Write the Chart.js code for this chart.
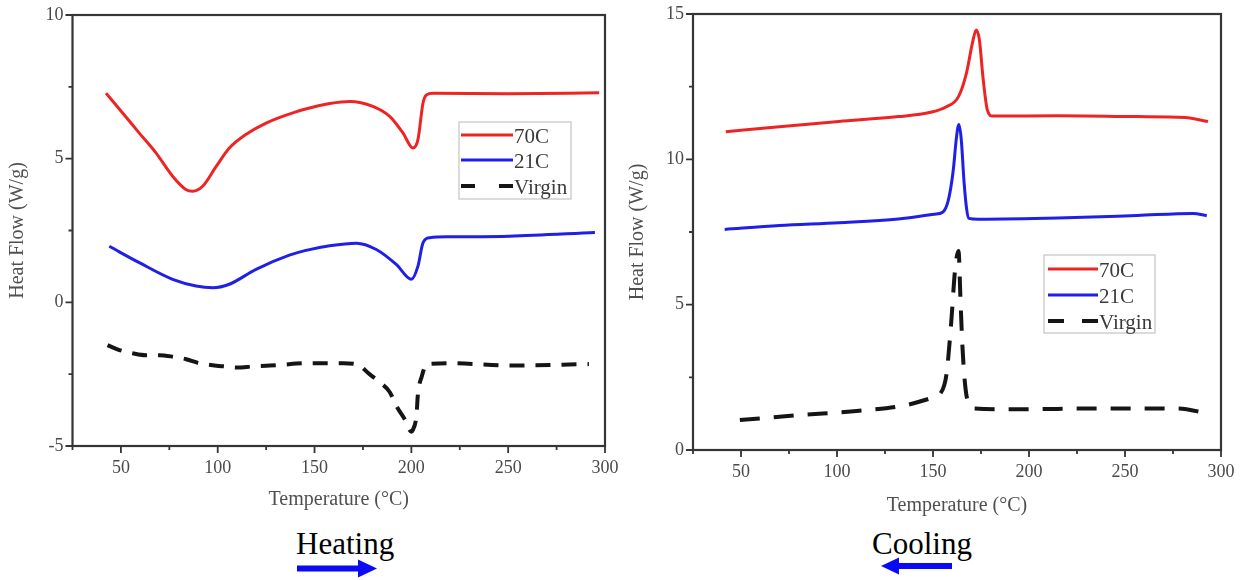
<!DOCTYPE html>
<html>
<head>
<meta charset="utf-8">
<script src="https://cdn.jsdelivr.net/npm/chart.js@4/dist/chart.umd.min.js"></script>
<style>
  html, body { margin: 0; padding: 0; background: #fff; width: 1244px; height: 580px; overflow: hidden; }
  .box { position: absolute; top: 0; height: 520px; }
  #leftBox { left: 0; width: 620px; }
  #rightBox { left: 620px; width: 624px; }
  .lbl { position: absolute; font-family: "Liberation Serif", "Times New Roman", serif; font-size: 31px; line-height: 31px; color: #000; white-space: nowrap; }
  svg.arrows { position: absolute; left: 0; top: 0; }
</style>
</head>
<body>
<div class="box" id="leftBox"><canvas id="heat"></canvas></div>
<div class="box" id="rightBox"><canvas id="cool"></canvas></div>
<div class="lbl" style="left:296px; top:528px;">Heating</div>
<div class="lbl" style="left:872px; top:528px;">Cooling</div>
<svg class="arrows" width="1244" height="580">
  <rect x="297" y="565.5" width="62" height="6" fill="#0a0af5"/>
  <polygon points="358,559.5 377,568.5 358,577.5" fill="#0a0af5"/>
  <polygon points="881,566 899,557.5 899,574.5" fill="#0a0af5"/>
  <rect x="898" y="563" width="54" height="6" fill="#0a0af5"/>
</svg>
<script>
// ---------------- data ----------------
const seriesNames = ['70C', '21C', 'Virgin'];

// Heating (left panel)
const heatX70 = [42.3, 50.9, 59.5, 68.1, 76.7, 83.7, 87.1, 92.2, 99.2, 106, 114.7, 125, 140, 152, 157.8, 168.1, 180.1, 188.8, 195.7, 200.8, 203.4, 206, 207.8, 211.2, 250, 297];
const heatY70 = [7.28, 6.59, 5.89, 5.2, 4.39, 3.92, 3.87, 4.04, 4.73, 5.37, 5.85, 6.24, 6.62, 6.84, 6.92, 6.99, 6.82, 6.47, 5.89, 5.37, 5.66, 6.93, 7.22, 7.28, 7.26, 7.29];
const heatX21 = [44, 59.5, 76.7, 88.8, 97.4, 106, 119.8, 137, 145, 157.8, 171.6, 181.9, 192.2, 200, 203.4, 206, 209.5, 219.8, 250.6, 294.8];
const heatY21 = [1.95, 1.38, 0.8, 0.57, 0.51, 0.63, 1.15, 1.64, 1.8, 1.97, 2.06, 1.84, 1.32, 0.8, 1.26, 2.07, 2.25, 2.28, 2.3, 2.43];
const heatXV = [43.1, 49.2, 56, 63, 69.9, 76.7, 83.7, 90.5, 97.4, 103.5, 110.3, 118, 125, 132, 146, 165, 171.6, 178.4, 183.6, 188.8, 192.2, 196.5, 200, 200.7, 202.7, 203.3, 205.4, 208, 220, 250.6, 291.7];
const heatYV = [-1.49, -1.66, -1.77, -1.84, -1.84, -1.89, -1.98, -2.12, -2.19, -2.23, -2.27, -2.23, -2.21, -2.18, -2.12, -2.12, -2.15, -2.5, -2.78, -3.12, -3.6, -4.06, -4.5, -4.45, -3.89, -3.26, -2.57, -2.15, -2.12, -2.2, -2.15];

// Cooling (right panel)
const coolX70 = [42.1, 70, 101, 132, 148.7, 157, 163.2, 167.4, 170.5, 172.5, 174.2, 176, 178.3, 181, 215, 256.4, 281.2, 293.2];
const coolY70 = [10.95, 11.12, 11.3, 11.47, 11.62, 11.81, 12.15, 12.96, 13.99, 14.45, 14.1, 12.84, 11.7, 11.49, 11.5, 11.47, 11.44, 11.3];
const coolX21 = [41.5, 70, 101, 132, 150.8, 155, 158, 160.5, 162.3, 163.5, 164.7, 166.2, 167.5, 168.7, 173.6, 215, 256.4, 285.4, 292.6];
const coolY21 = [7.59, 7.72, 7.82, 7.95, 8.11, 8.18, 8.6, 9.6, 10.8, 11.2, 10.7, 9.2, 8.3, 7.97, 7.94, 7.98, 8.07, 8.14, 8.06];
const coolXV = [49.4, 80.4, 111.5, 136.3, 148.7, 154, 157, 159.5, 161.5, 163.3, 164.3, 165.3, 166.5, 168, 171.3, 194.3, 235.7, 277, 293.2];
const coolYV = [1.03, 1.2, 1.35, 1.55, 1.78, 1.96, 2.6, 4.4, 6.2, 6.85, 5.2, 3.6, 2.4, 1.7, 1.43, 1.4, 1.43, 1.43, 1.26];

// axis ranges / tick labels
const xMin = 25, xMax = 300, xStep = 25, xLabelEvery = 50;
const heatYMin = -5, heatYMax = 10;
const coolYMin = 0, coolYMax = 15;
const yStep = 2.5, yLabelEvery = 5;
const xTitle = 'Temperature (\u00B0C)';
const yTitle = 'Heat Flow (W/g)';

// ---------------- styling ----------------
const SERIF = '"Liberation Serif", "Times New Roman", serif';
const RED = '#ee2424', BLUE = '#1f1fe8', BLACK = '#151515';

function pts(xs, ys) { return xs.map((x, i) => ({ x: x, y: ys[i] })); }

const framePlugin = {
  id: 'frameTicks',
  afterDraw(chart, args, opts) {
    const { ctx, chartArea: a, scales } = chart;
    const x = scales.x, y = scales.y;
    ctx.save();
    ctx.strokeStyle = '#353535';
    ctx.lineWidth = 2.2;
    ctx.strokeRect(a.left, a.top, a.right - a.left, a.bottom - a.top);
    ctx.lineWidth = 1.8;
    ctx.beginPath();
    x.ticks.forEach(t => {
      const px = x.getPixelForValue(t.value);
      const len = (t.value % xLabelEvery === 0) ? 7 : 4;
      ctx.moveTo(px, a.bottom); ctx.lineTo(px, a.bottom + len);
    });
    y.ticks.forEach(t => {
      const py = y.getPixelForValue(t.value);
      const len = (Math.abs(t.value % yLabelEvery) < 1e-9) ? 7 : 4;
      ctx.moveTo(a.left, py); ctx.lineTo(a.left - len, py);
    });
    ctx.stroke();

    // legend
    const L = opts.legend;
    ctx.strokeStyle = '#c4c4c4';
    ctx.lineWidth = 1.2;
    ctx.strokeRect(L.x, L.y, L.w, L.h);
    chart.data.datasets.forEach((ds, i) => {
      const ry = L.rows[i];
      ctx.strokeStyle = ds.borderColor;
      ctx.lineWidth = ds.borderWidth;
      ctx.setLineDash(ds.borderDash && ds.borderDash.length ? L.dash : []);
      ctx.beginPath();
      ctx.moveTo(L.lx0, ry); ctx.lineTo(L.lx1, ry);
      ctx.stroke();
      ctx.setLineDash([]);
      ctx.fillStyle = '#3a3a3a';
      ctx.font = '21px ' + SERIF;
      ctx.textBaseline = 'middle';
      ctx.textAlign = 'left';
      ctx.fillText(ds.label, L.tx, L.rows[i] + 2);
    });
    ctx.restore();
  }
};

function makeChart(id, datasets, yMin, yMax, geo, legend) {
  return new Chart(document.getElementById(id), {
    type: 'line',
    data: { datasets: datasets },
    options: {
      responsive: true,
      maintainAspectRatio: false,
      animation: false,
      layout: { padding: { left: 0, top: geo.top, right: geo.right, bottom: 0 } },
      plugins: { legend: { display: false }, tooltip: { enabled: false }, frameTicks: { legend: legend } },
      elements: { point: { radius: 0 }, line: { cubicInterpolationMode: 'monotone' } },
      scales: {
        x: {
          type: 'linear', min: xMin, max: xMax,
          grid: { display: false, drawTicks: false, tickLength: 0 },
          border: { display: false },
          ticks: {
            stepSize: xStep, padding: geo.xPad, color: '#4a4a4a',
            font: { family: SERIF, size: 18 },
            maxRotation: 0, autoSkip: false,
            callback: v => (v % xLabelEvery === 0 ? String(v) : '')
          },
          title: { display: true, text: xTitle, color: '#505050', font: { family: SERIF, size: 20 }, padding: { top: 0, bottom: geo.xTitlePad } },
          afterFit: s => { s.height = geo.xH; s.paddingLeft = 0; s.paddingRight = 0; }
        },
        y: {
          type: 'linear', min: yMin, max: yMax,
          grid: { display: false, drawTicks: false, tickLength: 0 },
          border: { display: false },
          ticks: {
            stepSize: yStep, padding: 9, color: '#4a4a4a',
            font: { family: SERIF, size: 18 }, autoSkip: false,
            callback: v => (Math.abs(v % yLabelEvery) < 1e-9 ? String(v) : '')
          },
          title: { display: true, text: yTitle, color: '#505050', font: { family: SERIF, size: 20 }, padding: { top: 6, bottom: 0 } },
          afterFit: s => { s.width = geo.yW; s.paddingTop = 0; s.paddingBottom = 0; }
        }
      }
    },
    plugins: [framePlugin]
  });
}

function sets(d70, d21, dV, dash) {
  return [
    { label: seriesNames[0], data: d70, borderColor: RED, borderWidth: 3, fill: false },
    { label: seriesNames[1], data: d21, borderColor: BLUE, borderWidth: 3, fill: false },
    { label: seriesNames[2], data: dV, borderColor: BLACK, borderWidth: 4, borderDash: dash, fill: false }
  ];
}

makeChart('heat',
  sets(pts(heatX70, heatY70), pts(heatX21, heatY21), pts(heatXV, heatYV), [15, 11]),
  heatYMin, heatYMax,
  { top: 15, right: 15, xH: 74, yW: 72.5, xPad: 11, xTitlePad: 8 },
  { x: 459, y: 122, w: 112, h: 77, rows: [135, 160, 186], lx0: 461, lx1: 513, tx: 514, dash: [14, 24] }
);

makeChart('cool',
  sets(pts(coolX70, coolY70), pts(coolX21, coolY21), pts(coolXV, coolYV), [20, 14]),
  coolYMin, coolYMax,
  { top: 14, right: 23, xH: 70, yW: 73, xPad: 11, xTitlePad: 2 },
  { x: 424, y: 255, w: 111, h: 78, rows: [269, 295, 321], lx0: 428, lx1: 478, tx: 479, dash: [16, 18] }
);
</script>
</body>
</html>
